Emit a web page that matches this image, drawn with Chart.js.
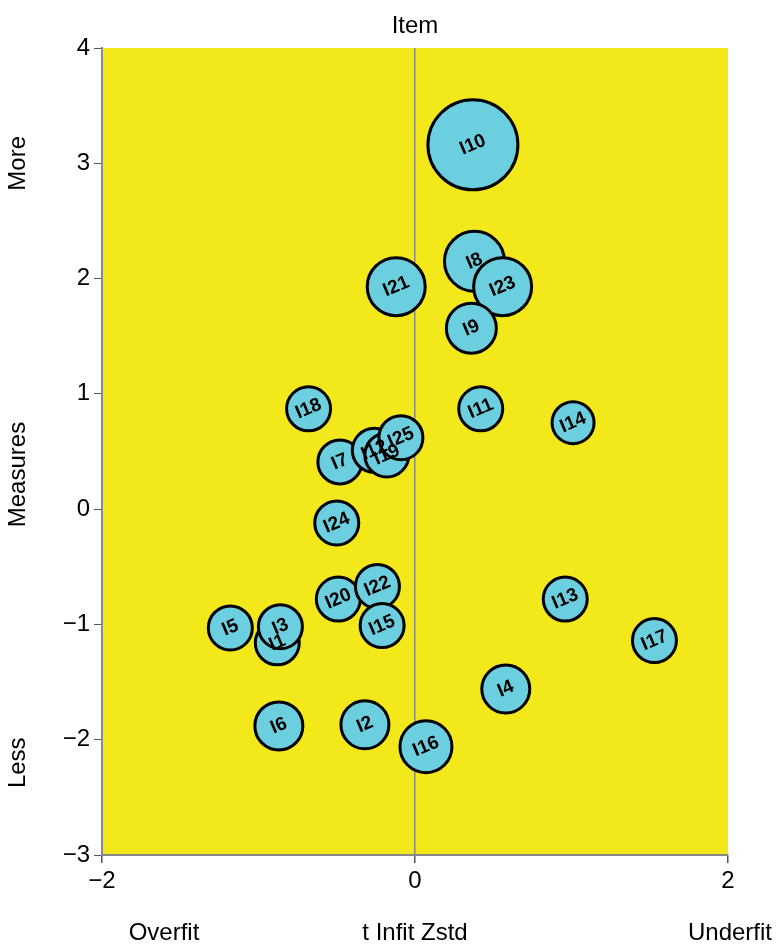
<!DOCTYPE html>
<html><head><meta charset="utf-8">
<script src="https://cdn.jsdelivr.net/npm/chart.js@4"></script>
<style>body{margin:0;background:#fff}#wrap{width:779px;height:949px}</style>
</head><body><div id="wrap"><canvas id="c"></canvas></div>
<script>
const labels = ['I10','I8','I23','I21','I9','I18','I11','I14','I7','I12','I19','I25','I24','I20','I22','I15','I5','I1','I3','I13','I17','I4','I6','I2','I16'];
const infit  = [0.37,0.38,0.56,-0.12,0.36,-0.68,0.42,1.01,-0.48,-0.26,-0.18,-0.09,-0.50,-0.49,-0.24,-0.21,-1.18,-0.88,-0.86,0.96,1.53,0.58,-0.87,-0.32,0.07];
const measure= [3.16,2.15,1.93,1.93,1.57,0.87,0.87,0.75,0.41,0.51,0.47,0.62,-0.12,-0.78,-0.67,-1.01,-1.03,-1.16,-1.02,-0.78,-1.14,-1.56,-1.88,-1.87,-2.06];
const sizes  = [45,30,29,29,25,22,22,21,22,22,22,22,22,22,22,22,22,22,22,22,22,24,24,24,26];
const F = 'Liberation Sans, Arial, sans-serif';

const bgPlugin = {
  id:'bg',
  beforeDraw(ch){const a=ch.chartArea,c=ch.ctx;c.save();c.fillStyle='#f2e81a';c.fillRect(a.left,a.top,a.right-a.left,a.bottom-a.top);c.restore();},
  afterDatasetsDraw(ch){
    const c=ch.ctx,meta=ch.getDatasetMeta(0);
    c.save();c.font='bold 19px '+F;c.fillStyle='#000';c.textAlign='center';c.textBaseline='middle';
    meta.data.forEach((p,i)=>{c.save();c.translate(p.x,p.y);c.rotate(-0.4);c.fillText(labels[i],0,0);c.restore();});
    const a=ch.chartArea;
    c.font='24px '+F;
    c.fillText('Item',(a.left+a.right)/2,a.top-22);
    c.fillText('Overfit',164,933);c.fillText('t Infit Zstd',415,933);c.fillText('Underfit',730,933);
    [['More',ch.scales.y.getPixelForValue(3)],['Measures',ch.scales.y.getPixelForValue(0.3)],['Less',ch.scales.y.getPixelForValue(-2.2)]].forEach(([t,y])=>{
      c.save();c.translate(18,y);c.rotate(-Math.PI/2);c.fillText(t,0,0);c.restore();});
    c.restore();
  }
};

new Chart(document.getElementById('c'),{
  type:'bubble',
  data:{datasets:[{data:infit.map((x,i)=>({x:x,y:measure[i],r:sizes[i]})),
    backgroundColor:'#6ccfdf',borderColor:'#000',borderWidth:3,hoverBorderWidth:3}]},
  options:{responsive:true,maintainAspectRatio:false,animation:false,
    layout:{padding:{top:38,right:51,bottom:0,left:0}},
    plugins:{legend:{display:false},tooltip:{enabled:false}},
    scales:{
      x:{min:-2,max:2,afterFit(s){s.height=94;},
        ticks:{stepSize:2,font:{size:24,family:F},color:'#000',padding:4,callback:v=>String(v).replace('-','\u2212')},
        grid:{color:c=>c.tick&&c.tick.value===0?'#888':'transparent',lineWidth:1.5,tickColor:'#555',tickLength:8,drawTicks:true},
        border:{color:'#888',width:2}},
      y:{min:-3,max:4,afterFit(s){s.width=102;},
        ticks:{stepSize:1,font:{size:24,family:F},color:'#000',padding:4,callback:v=>String(v).replace('-','\u2212')},
        grid:{color:'transparent',tickColor:'#555',tickLength:8},
        border:{color:'#888',width:2}}
    }},
  plugins:[bgPlugin]
});
</script></body></html>
